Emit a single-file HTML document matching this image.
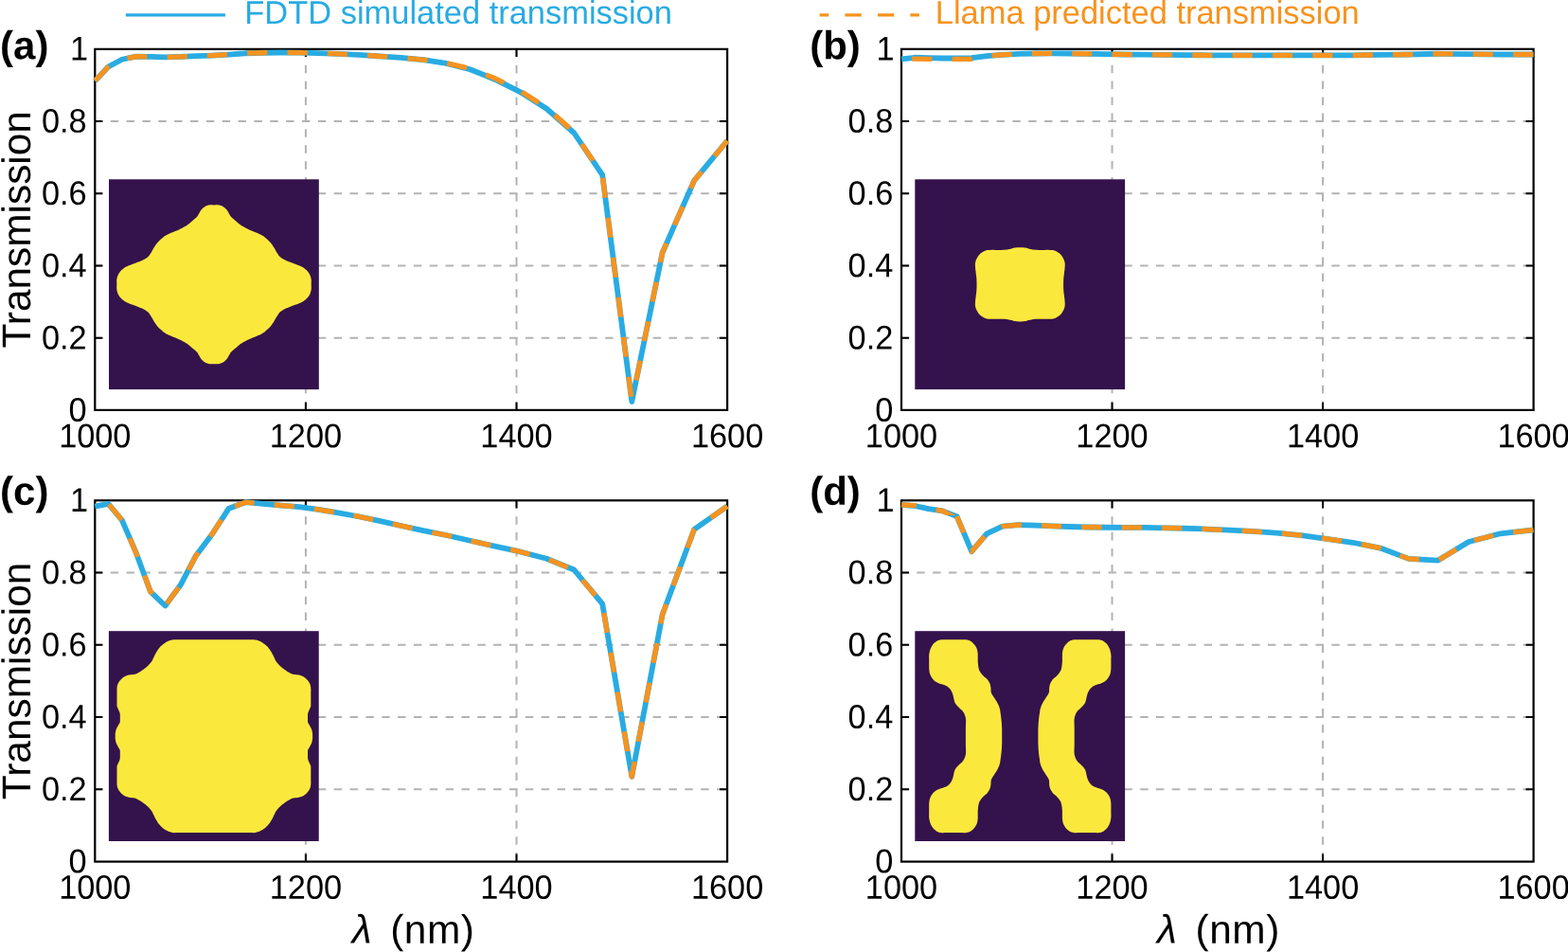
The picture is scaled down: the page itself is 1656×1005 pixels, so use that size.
<!DOCTYPE html>
<html><head><meta charset="utf-8"><title>FDTD vs Llama transmission</title>
<style>html,body{margin:0;padding:0;background:#fff;overflow:hidden}svg{display:block}text{font-family:"Liberation Sans",sans-serif;fill:#000;text-rendering:geometricPrecision}</style>
</head><body>
<svg width="1656" height="1005" viewBox="0 0 1656 1005" role="img" aria-label="FDTD simulated versus Llama predicted transmission spectra">
<rect width="1656" height="1005" fill="#fff"/>
<g id="panel-a">
<path d="M322.9 51.85V432.9M545.5 51.85V432.9" fill="none" stroke="#b3b3b3" stroke-width="2.0" stroke-dasharray="8.5 8.4"/>
<path d="M768.1 356.69H100.3M768.1 280.48H100.3M768.1 204.27H100.3M768.1 128.06H100.3" fill="none" stroke="#b3b3b3" stroke-width="2.0" stroke-dasharray="8.45 8.4" stroke-dashoffset="14.25"/>
<path d="M322.9 432.9v-8.1M322.9 51.85v8.1M545.5 432.9v-8.1M545.5 51.85v8.1M100.3 356.69h8.1M768.1 356.69h-8.1M100.3 280.48h8.1M768.1 280.48h-8.1M100.3 204.27h8.1M768.1 204.27h-8.1M100.3 128.06h8.1M768.1 128.06h-8.1" fill="none" stroke="#000" stroke-width="2.0"/>
<rect x="100.3" y="51.85" width="667.8" height="381.05" fill="none" stroke="#000" stroke-width="2.2"/>
<rect x="115" y="189.3" width="221.8" height="221.8" fill="#34124c"/>
<path d="M226.0 216.4 L225.2 216.4 L224.3 216.3 L223.5 216.3 L222.6 216.3 L221.8 216.3 L221.0 216.4 L220.2 216.6 L219.5 216.8 L218.7 217.0 L218.0 217.3 L217.3 217.6 L216.6 218.0 L215.9 218.4 L215.2 218.9 L214.5 219.5 L213.9 220.1 L213.3 220.7 L212.7 221.3 L212.2 222.0 L211.7 222.7 L211.2 223.5 L210.8 224.3 L210.4 225.0 L210.0 225.7 L209.6 226.3 L209.3 226.9 L209.0 227.4 L208.7 228.0 L208.3 228.5 L207.8 229.1 L207.2 229.7 L206.5 230.3 L205.7 231.0 L205.0 231.6 L204.2 232.3 L203.4 232.9 L202.7 233.6 L201.9 234.2 L201.2 234.9 L200.4 235.6 L199.6 236.2 L198.9 236.8 L198.2 237.3 L197.5 237.8 L196.8 238.2 L196.1 238.7 L195.4 239.1 L194.5 239.6 L193.5 240.1 L192.5 240.7 L191.3 241.3 L190.2 241.8 L189.0 242.4 L187.9 242.9 L186.8 243.4 L185.7 243.8 L184.6 244.3 L183.5 244.7 L182.4 245.2 L181.3 245.6 L180.2 246.0 L179.2 246.5 L178.2 246.9 L177.1 247.4 L176.1 247.9 L175.2 248.4 L174.3 249.0 L173.4 249.6 L172.6 250.2 L171.8 250.9 L171.0 251.6 L170.2 252.3 L169.4 253.0 L168.6 253.7 L167.9 254.4 L167.2 255.2 L166.5 255.9 L165.8 256.7 L165.2 257.5 L164.6 258.3 L164.1 259.1 L163.6 259.9 L163.0 260.7 L162.5 261.6 L161.9 262.5 L161.4 263.5 L160.8 264.5 L160.3 265.4 L159.7 266.4 L159.2 267.2 L158.7 267.9 L158.3 268.6 L157.9 269.2 L157.5 269.8 L157.0 270.4 L156.4 271.0 L155.7 271.6 L155.0 272.2 L154.1 272.7 L153.3 273.3 L152.4 273.8 L151.4 274.3 L150.4 274.8 L149.4 275.3 L148.3 275.7 L147.1 276.2 L146.0 276.6 L144.8 277.1 L143.6 277.6 L142.2 278.0 L140.9 278.5 L139.5 279.0 L138.3 279.4 L137.1 279.9 L136.0 280.3 L135.1 280.8 L134.2 281.2 L133.3 281.6 L132.4 282.1 L131.6 282.6 L130.8 283.2 L130.0 283.8 L129.2 284.4 L128.4 285.1 L127.7 285.8 L127.1 286.5 L126.5 287.2 L126.0 287.9 L125.5 288.7 L125.1 289.4 L124.7 290.2 L124.4 290.9 L124.1 291.6 L123.9 292.3 L123.7 293.1 L123.5 293.8 L123.4 294.5 L123.3 295.3 L123.2 296.1 L123.2 296.9 L123.2 297.8 L123.3 298.6 L123.3 299.5 L123.3 300.3 L123.3 301.1 L123.3 302.0 L123.2 302.8 L123.2 303.7 L123.2 304.5 L123.3 305.3 L123.4 306.1 L123.5 306.8 L123.7 307.5 L123.9 308.3 L124.1 309.0 L124.4 309.7 L124.7 310.4 L125.1 311.2 L125.5 311.9 L126.0 312.7 L126.5 313.4 L127.1 314.1 L127.7 314.8 L128.4 315.5 L129.2 316.2 L130.0 316.8 L130.8 317.4 L131.6 318.0 L132.4 318.5 L133.3 319.0 L134.2 319.4 L135.1 319.8 L136.0 320.3 L137.1 320.7 L138.3 321.2 L139.5 321.6 L140.9 322.1 L142.2 322.6 L143.6 323.0 L144.8 323.5 L146.0 324.0 L147.1 324.4 L148.3 324.9 L149.4 325.3 L150.4 325.8 L151.4 326.3 L152.4 326.8 L153.3 327.3 L154.1 327.9 L155.0 328.4 L155.7 329.0 L156.4 329.6 L157.0 330.2 L157.5 330.8 L157.9 331.4 L158.3 332.0 L158.7 332.7 L159.2 333.4 L159.7 334.2 L160.3 335.2 L160.8 336.1 L161.4 337.1 L161.9 338.1 L162.5 339.0 L163.0 339.9 L163.6 340.7 L164.1 341.5 L164.6 342.3 L165.2 343.1 L165.8 343.9 L166.5 344.7 L167.2 345.4 L167.9 346.2 L168.6 346.9 L169.4 347.6 L170.2 348.3 L171.0 349.0 L171.8 349.7 L172.6 350.4 L173.4 351.0 L174.3 351.6 L175.2 352.2 L176.1 352.7 L177.1 353.2 L178.2 353.7 L179.2 354.1 L180.2 354.6 L181.3 355.0 L182.4 355.4 L183.5 355.9 L184.6 356.3 L185.7 356.8 L186.8 357.2 L187.9 357.7 L189.0 358.2 L190.2 358.8 L191.3 359.3 L192.5 359.9 L193.5 360.5 L194.5 361.0 L195.4 361.5 L196.1 361.9 L196.8 362.4 L197.5 362.8 L198.2 363.3 L198.9 363.8 L199.6 364.4 L200.4 365.0 L201.2 365.7 L201.9 366.4 L202.7 367.0 L203.4 367.7 L204.2 368.3 L205.0 369.0 L205.7 369.6 L206.5 370.3 L207.2 370.9 L207.8 371.5 L208.3 372.1 L208.7 372.6 L209.0 373.2 L209.3 373.7 L209.6 374.3 L210.0 374.9 L210.4 375.6 L210.8 376.3 L211.2 377.1 L211.7 377.9 L212.2 378.6 L212.7 379.3 L213.3 379.9 L213.9 380.5 L214.5 381.1 L215.2 381.7 L215.9 382.2 L216.6 382.6 L217.3 383.0 L218.0 383.3 L218.7 383.6 L219.5 383.8 L220.2 384.0 L221.0 384.2 L221.8 384.3 L222.6 384.3 L223.5 384.3 L224.3 384.3 L225.2 384.2 L226.0 384.2 L226.8 384.2 L227.7 384.3 L228.5 384.3 L229.4 384.3 L230.2 384.3 L231.0 384.2 L231.8 384.0 L232.5 383.8 L233.3 383.6 L234.0 383.3 L234.7 383.0 L235.4 382.6 L236.1 382.2 L236.8 381.7 L237.5 381.1 L238.1 380.5 L238.7 379.9 L239.3 379.3 L239.8 378.6 L240.3 377.9 L240.8 377.1 L241.2 376.3 L241.6 375.6 L242.0 374.9 L242.4 374.3 L242.7 373.7 L243.0 373.2 L243.3 372.6 L243.7 372.1 L244.2 371.5 L244.8 370.9 L245.5 370.3 L246.3 369.6 L247.0 369.0 L247.8 368.3 L248.6 367.7 L249.3 367.0 L250.1 366.4 L250.8 365.7 L251.6 365.0 L252.4 364.4 L253.1 363.8 L253.8 363.3 L254.5 362.8 L255.2 362.4 L255.9 361.9 L256.6 361.5 L257.5 361.0 L258.5 360.5 L259.5 359.9 L260.7 359.3 L261.8 358.8 L263.0 358.2 L264.1 357.7 L265.2 357.2 L266.3 356.8 L267.4 356.3 L268.5 355.9 L269.6 355.4 L270.7 355.0 L271.8 354.6 L272.8 354.1 L273.9 353.7 L274.9 353.2 L275.9 352.7 L276.8 352.2 L277.7 351.6 L278.6 351.0 L279.4 350.4 L280.2 349.7 L281.0 349.0 L281.8 348.3 L282.6 347.6 L283.4 346.9 L284.1 346.2 L284.8 345.4 L285.5 344.7 L286.2 343.9 L286.8 343.1 L287.4 342.3 L287.9 341.5 L288.4 340.7 L289.0 339.9 L289.5 339.0 L290.1 338.1 L290.6 337.1 L291.2 336.1 L291.7 335.2 L292.3 334.2 L292.8 333.4 L293.3 332.7 L293.7 332.0 L294.1 331.4 L294.5 330.8 L295.0 330.2 L295.6 329.6 L296.3 329.0 L297.0 328.4 L297.9 327.9 L298.7 327.3 L299.6 326.8 L300.6 326.3 L301.6 325.8 L302.6 325.3 L303.7 324.9 L304.9 324.4 L306.0 324.0 L307.2 323.5 L308.4 323.0 L309.8 322.6 L311.1 322.1 L312.5 321.6 L313.7 321.2 L314.9 320.7 L316.0 320.3 L316.9 319.8 L317.9 319.4 L318.7 319.0 L319.6 318.5 L320.4 318.0 L321.2 317.4 L322.0 316.8 L322.8 316.2 L323.6 315.5 L324.3 314.8 L324.9 314.1 L325.5 313.4 L326.0 312.7 L326.5 311.9 L326.9 311.2 L327.3 310.4 L327.6 309.7 L327.9 309.0 L328.1 308.3 L328.3 307.5 L328.5 306.8 L328.6 306.1 L328.7 305.3 L328.8 304.5 L328.8 303.7 L328.8 302.8 L328.7 302.0 L328.7 301.1 L328.7 300.3 L328.7 299.5 L328.7 298.6 L328.8 297.8 L328.8 296.9 L328.8 296.1 L328.7 295.3 L328.6 294.5 L328.5 293.8 L328.3 293.1 L328.1 292.3 L327.9 291.6 L327.6 290.9 L327.3 290.2 L326.9 289.4 L326.5 288.7 L326.0 287.9 L325.5 287.2 L324.9 286.5 L324.3 285.8 L323.6 285.1 L322.8 284.4 L322.0 283.8 L321.2 283.2 L320.4 282.6 L319.6 282.1 L318.7 281.6 L317.9 281.2 L316.9 280.8 L316.0 280.3 L314.9 279.9 L313.7 279.4 L312.5 279.0 L311.1 278.5 L309.8 278.0 L308.4 277.6 L307.2 277.1 L306.0 276.6 L304.9 276.2 L303.7 275.7 L302.6 275.3 L301.6 274.8 L300.6 274.3 L299.6 273.8 L298.7 273.3 L297.9 272.7 L297.0 272.2 L296.3 271.6 L295.6 271.0 L295.0 270.4 L294.5 269.8 L294.1 269.2 L293.7 268.6 L293.3 267.9 L292.8 267.2 L292.3 266.4 L291.7 265.4 L291.2 264.5 L290.6 263.5 L290.1 262.5 L289.5 261.6 L289.0 260.7 L288.4 259.9 L287.9 259.1 L287.4 258.3 L286.8 257.5 L286.2 256.7 L285.5 255.9 L284.8 255.2 L284.1 254.4 L283.4 253.7 L282.6 253.0 L281.8 252.3 L281.0 251.6 L280.2 250.9 L279.4 250.2 L278.6 249.6 L277.7 249.0 L276.8 248.4 L275.9 247.9 L274.9 247.4 L273.9 246.9 L272.8 246.5 L271.8 246.0 L270.7 245.6 L269.6 245.2 L268.5 244.7 L267.4 244.3 L266.3 243.8 L265.2 243.4 L264.1 242.9 L263.0 242.4 L261.8 241.8 L260.7 241.3 L259.5 240.7 L258.5 240.1 L257.5 239.6 L256.6 239.1 L255.9 238.7 L255.2 238.2 L254.5 237.8 L253.8 237.3 L253.1 236.8 L252.4 236.2 L251.6 235.6 L250.8 234.9 L250.1 234.2 L249.3 233.6 L248.6 232.9 L247.8 232.3 L247.0 231.6 L246.3 231.0 L245.5 230.3 L244.8 229.7 L244.2 229.1 L243.7 228.5 L243.3 228.0 L243.0 227.4 L242.7 226.9 L242.4 226.3 L242.0 225.7 L241.6 225.0 L241.2 224.3 L240.8 223.5 L240.3 222.7 L239.8 222.0 L239.3 221.3 L238.7 220.7 L238.1 220.1 L237.5 219.5 L236.8 218.9 L236.1 218.4 L235.4 218.0 L234.7 217.6 L234.0 217.3 L233.3 217.0 L232.5 216.8 L231.8 216.6 L231.0 216.4 L230.2 216.3 L229.4 216.3 L228.5 216.3 L227.7 216.3 L226.8 216.4Z" fill="#fbe83d"/>
<polyline points="768.1,148.64 733.18,190.55 699.61,266.76 667.3,423.95 636.19,184.61 606.21,140.25 577.3,114.8 549.41,97.16 522.47,83.71 496.45,73.27 471.3,66.98 446.97,63.05 423.43,60.88 400.63,59.32 378.55,57.87 357.15,56.8 336.39,56.04 316.26,55.66 296.71,55.51 277.73,55.74 259.3,56.27 241.38,57.57 223.97,58.56 207.03,59.2 190.54,59.85 174.5,60.39 158.88,59.85 143.66,59.55 128.84,62.79 114.39,70.52 100.3,85.38" fill="none" stroke="#29abe2" stroke-width="5.8" stroke-linejoin="round"/>
<polyline points="768.1,148.64 733.18,190.55 699.61,266.76 667.67,422.15" fill="none" stroke="#f7931e" stroke-width="5.3" stroke-linejoin="round" stroke-dasharray="21.18 21.18" stroke-dashoffset="0"/>
<polyline points="667.3,423.95 636.19,184.61 606.21,139.49 577.3,113.66 549.41,96.01 522.47,82.56 496.45,72.5 471.3,66.6 446.97,63.05 423.43,60.88 400.63,59.32 378.55,57.87 357.15,56.8 336.39,56.04 316.26,55.66 296.71,55.51 277.73,55.74 259.3,56.27 241.38,57.57 223.97,58.56 207.03,59.2 190.54,59.85 174.5,60.39 158.88,59.85 143.66,59.55 128.84,62.79 114.39,70.52 100.3,85.38" fill="none" stroke="#f7931e" stroke-width="5.3" stroke-linejoin="round" stroke-dasharray="21.18 21.18" stroke-dashoffset="37.14"/>
<text transform="translate(100.3 472.3) scale(1 1.035) rotate(0.03)" font-size="34.3" text-anchor="middle">1000</text>
<text transform="translate(322.9 472.3) scale(1 1.035) rotate(0.03)" font-size="34.3" text-anchor="middle">1200</text>
<text transform="translate(545.5 472.3) scale(1 1.035) rotate(0.03)" font-size="34.3" text-anchor="middle">1400</text>
<text transform="translate(768.1 472.3) scale(1 1.035) rotate(0.03)" font-size="34.3" text-anchor="middle">1600</text>
<text transform="translate(91.6 444.65) scale(1 1.035) rotate(0.03)" font-size="34.3" text-anchor="end">0</text>
<text transform="translate(91.6 368.44) scale(1 1.035) rotate(0.03)" font-size="34.3" text-anchor="end">0.2</text>
<text transform="translate(91.6 292.23) scale(1 1.035) rotate(0.03)" font-size="34.3" text-anchor="end">0.4</text>
<text transform="translate(91.6 216.02) scale(1 1.035) rotate(0.03)" font-size="34.3" text-anchor="end">0.6</text>
<text transform="translate(91.6 139.81) scale(1 1.035) rotate(0.03)" font-size="34.3" text-anchor="end">0.8</text>
<text transform="translate(93 63.6) scale(1 1.035) rotate(0.03)" font-size="34.3" text-anchor="end">1</text>
<text transform="translate(0.1 62.3) rotate(0.03)" font-size="42.0" font-weight="bold">(a)</text>
<text transform="translate(31.7 242.3) rotate(-90)" font-size="42.4" text-anchor="middle">Transmission</text>
</g>
<g id="panel-b">
<path d="M1174.53 51.8V432.9M1397.07 51.8V432.9" fill="none" stroke="#b3b3b3" stroke-width="2.0" stroke-dasharray="8.5 8.4"/>
<path d="M1619.6 356.68H952M1619.6 280.46H952M1619.6 204.24H952M1619.6 128.02H952" fill="none" stroke="#b3b3b3" stroke-width="2.0" stroke-dasharray="8.45 8.4" stroke-dashoffset="14.25"/>
<path d="M1174.53 432.9v-8.1M1174.53 51.8v8.1M1397.07 432.9v-8.1M1397.07 51.8v8.1M952 356.68h8.1M1619.6 356.68h-8.1M952 280.46h8.1M1619.6 280.46h-8.1M952 204.24h8.1M1619.6 204.24h-8.1M952 128.02h8.1M1619.6 128.02h-8.1" fill="none" stroke="#000" stroke-width="2.0"/>
<rect x="952" y="51.8" width="667.6" height="381.1" fill="none" stroke="#000" stroke-width="2.2"/>
<rect x="966.3" y="189.3" width="221.8" height="221.8" fill="#34124c"/>
<path d="M1077.3 261.2 L1076.4 261.2 L1075.6 261.2 L1074.7 261.3 L1073.8 261.3 L1073.0 261.4 L1072.2 261.5 L1071.3 261.6 L1070.5 261.8 L1069.8 262.0 L1069.0 262.3 L1068.2 262.5 L1067.4 262.7 L1066.6 262.9 L1065.8 263.0 L1065.0 263.2 L1064.2 263.4 L1063.4 263.5 L1062.6 263.6 L1061.9 263.7 L1061.3 263.8 L1060.7 263.8 L1060.0 263.8 L1059.0 263.8 L1057.8 263.9 L1056.2 263.9 L1054.1 263.9 L1051.8 263.9 L1049.6 263.8 L1047.5 263.8 L1045.9 263.9 L1044.7 263.9 L1043.9 263.9 L1043.3 263.9 L1042.8 264.0 L1042.3 264.1 L1041.7 264.2 L1041.0 264.5 L1040.3 264.7 L1039.6 265.1 L1038.9 265.4 L1038.2 265.8 L1037.5 266.3 L1036.9 266.7 L1036.2 267.1 L1035.6 267.6 L1035.0 268.1 L1034.5 268.7 L1033.9 269.2 L1033.4 269.9 L1032.9 270.5 L1032.5 271.3 L1032.1 272.0 L1031.7 272.7 L1031.3 273.4 L1031.0 274.1 L1030.7 274.8 L1030.5 275.5 L1030.3 276.2 L1030.1 276.9 L1030.0 277.6 L1029.9 278.3 L1029.9 278.9 L1029.9 279.6 L1029.9 280.3 L1029.9 281.0 L1030.0 281.8 L1030.1 282.7 L1030.1 283.6 L1030.2 284.7 L1030.4 285.7 L1030.5 286.7 L1030.6 287.8 L1030.7 288.7 L1030.8 289.7 L1031.0 290.7 L1031.1 291.7 L1031.2 292.7 L1031.3 293.7 L1031.4 294.8 L1031.4 295.9 L1031.5 297.0 L1031.5 298.1 L1031.5 299.2 L1031.5 300.3 L1031.5 301.4 L1031.5 302.5 L1031.5 303.6 L1031.4 304.7 L1031.4 305.8 L1031.3 306.9 L1031.2 307.9 L1031.1 308.9 L1031.0 309.9 L1030.8 310.9 L1030.7 311.9 L1030.6 312.8 L1030.5 313.9 L1030.4 314.9 L1030.2 315.9 L1030.1 317.0 L1030.1 317.9 L1030.0 318.8 L1029.9 319.6 L1029.9 320.3 L1029.9 321.0 L1029.9 321.7 L1029.9 322.3 L1030.0 323.0 L1030.1 323.7 L1030.3 324.4 L1030.5 325.1 L1030.7 325.8 L1031.0 326.5 L1031.3 327.2 L1031.7 327.9 L1032.1 328.6 L1032.5 329.3 L1032.9 330.1 L1033.4 330.7 L1033.9 331.4 L1034.5 331.9 L1035.0 332.5 L1035.6 333.0 L1036.2 333.5 L1036.9 333.9 L1037.5 334.3 L1038.2 334.8 L1038.9 335.2 L1039.6 335.5 L1040.3 335.9 L1041.0 336.1 L1041.7 336.4 L1042.3 336.5 L1042.8 336.6 L1043.3 336.7 L1043.9 336.7 L1044.7 336.7 L1045.9 336.7 L1047.5 336.8 L1049.6 336.8 L1051.8 336.7 L1054.1 336.7 L1056.2 336.7 L1057.8 336.7 L1059.0 336.8 L1060.0 336.8 L1060.7 336.8 L1061.3 336.8 L1061.9 336.9 L1062.6 337.0 L1063.4 337.1 L1064.2 337.2 L1065.0 337.4 L1065.8 337.6 L1066.6 337.7 L1067.4 337.9 L1068.2 338.1 L1069.0 338.3 L1069.8 338.6 L1070.5 338.8 L1071.3 339.0 L1072.2 339.1 L1073.0 339.2 L1073.8 339.3 L1074.7 339.3 L1075.6 339.4 L1076.4 339.4 L1077.3 339.4 L1078.2 339.4 L1079.0 339.4 L1079.9 339.3 L1080.8 339.3 L1081.6 339.2 L1082.4 339.1 L1083.3 339.0 L1084.1 338.8 L1084.8 338.6 L1085.6 338.3 L1086.4 338.1 L1087.2 337.9 L1088.0 337.7 L1088.8 337.6 L1089.6 337.4 L1090.4 337.2 L1091.2 337.1 L1092.0 337.0 L1092.7 336.9 L1093.3 336.8 L1093.9 336.8 L1094.6 336.8 L1095.6 336.8 L1096.8 336.7 L1098.4 336.7 L1100.5 336.7 L1102.8 336.7 L1105.0 336.8 L1107.1 336.8 L1108.7 336.7 L1109.9 336.7 L1110.7 336.7 L1111.3 336.7 L1111.8 336.6 L1112.3 336.5 L1112.9 336.4 L1113.6 336.1 L1114.3 335.9 L1115.0 335.5 L1115.7 335.2 L1116.4 334.8 L1117.1 334.3 L1117.7 333.9 L1118.4 333.5 L1119.0 333.0 L1119.6 332.5 L1120.1 331.9 L1120.7 331.4 L1121.2 330.7 L1121.7 330.1 L1122.1 329.3 L1122.5 328.6 L1122.9 327.9 L1123.3 327.2 L1123.6 326.5 L1123.9 325.8 L1124.1 325.1 L1124.3 324.4 L1124.5 323.7 L1124.6 323.0 L1124.7 322.3 L1124.7 321.7 L1124.7 321.0 L1124.7 320.3 L1124.7 319.6 L1124.6 318.8 L1124.5 317.9 L1124.5 317.0 L1124.4 315.9 L1124.2 314.9 L1124.1 313.9 L1124.0 312.8 L1123.9 311.9 L1123.8 310.9 L1123.6 309.9 L1123.5 308.9 L1123.4 307.9 L1123.3 306.9 L1123.2 305.8 L1123.2 304.7 L1123.1 303.6 L1123.1 302.5 L1123.1 301.4 L1123.1 300.3 L1123.1 299.2 L1123.1 298.1 L1123.1 297.0 L1123.2 295.9 L1123.2 294.8 L1123.3 293.7 L1123.4 292.7 L1123.5 291.7 L1123.6 290.7 L1123.8 289.7 L1123.9 288.7 L1124.0 287.8 L1124.1 286.7 L1124.2 285.7 L1124.4 284.7 L1124.5 283.6 L1124.5 282.7 L1124.6 281.8 L1124.7 281.0 L1124.7 280.3 L1124.7 279.6 L1124.7 278.9 L1124.7 278.3 L1124.6 277.6 L1124.5 276.9 L1124.3 276.2 L1124.1 275.5 L1123.9 274.8 L1123.6 274.1 L1123.3 273.4 L1122.9 272.7 L1122.5 272.0 L1122.1 271.3 L1121.7 270.5 L1121.2 269.9 L1120.7 269.2 L1120.1 268.7 L1119.6 268.1 L1119.0 267.6 L1118.4 267.1 L1117.7 266.7 L1117.1 266.3 L1116.4 265.8 L1115.7 265.4 L1115.0 265.1 L1114.3 264.7 L1113.6 264.5 L1112.9 264.2 L1112.3 264.1 L1111.8 264.0 L1111.3 263.9 L1110.7 263.9 L1109.9 263.9 L1108.7 263.9 L1107.1 263.8 L1105.0 263.8 L1102.8 263.9 L1100.5 263.9 L1098.4 263.9 L1096.8 263.9 L1095.6 263.8 L1094.6 263.8 L1093.9 263.8 L1093.3 263.8 L1092.7 263.7 L1092.0 263.6 L1091.2 263.5 L1090.4 263.4 L1089.6 263.2 L1088.8 263.0 L1088.0 262.9 L1087.2 262.7 L1086.4 262.5 L1085.6 262.3 L1084.8 262.0 L1084.1 261.8 L1083.3 261.6 L1082.4 261.5 L1081.6 261.4 L1080.8 261.3 L1079.9 261.3 L1079.0 261.2 L1078.2 261.2Z" fill="#fbe83d"/>
<polyline points="1619.6,57.52 1584.69,57.52 1551.13,57.14 1518.83,56.75 1487.73,57.52 1457.76,57.9 1428.86,58.28 1400.97,58.28 1374.05,58.28 1348.03,58.28 1322.89,58.28 1298.57,58.28 1275.03,58.28 1252.24,58.09 1230.17,57.9 1208.77,57.71 1188.02,57.52 1167.89,57.14 1148.35,56.75 1129.38,56.49 1110.95,56.37 1093.04,56.49 1075.63,56.91 1058.69,57.9 1042.22,59.04 1026.18,61.14 1010.56,61.52 995.35,61.52 980.53,61.14 966.08,60.76 952,62.39" fill="none" stroke="#29abe2" stroke-width="5.8" stroke-linejoin="round"/>
<polyline points="1619.6,57.52 1584.69,57.52 1551.13,57.14 1518.83,56.75 1487.73,57.52 1457.76,57.9 1428.86,58.28 1400.97,58.28 1374.05,58.28 1348.03,58.28 1322.89,58.28 1298.57,58.28 1275.03,58.28 1252.24,58.09 1230.17,57.9 1208.77,57.71 1188.02,57.52 1167.89,57.14 1148.35,56.75 1129.38,56.49 1110.95,56.37 1093.04,56.49 1075.63,56.91 1058.69,57.9 1042.22,59.04 1026.18,62.28 1010.56,62.47 995.35,62.47 980.53,62.28 966.08,62.09 952,62.39" fill="none" stroke="#f7931e" stroke-width="5.3" stroke-linejoin="round" stroke-dasharray="21.18 21.18" stroke-dashoffset="42.08"/>
<text transform="translate(952 472.3) scale(1 1.035) rotate(0.03)" font-size="34.3" text-anchor="middle">1000</text>
<text transform="translate(1174.53 472.3) scale(1 1.035) rotate(0.03)" font-size="34.3" text-anchor="middle">1200</text>
<text transform="translate(1397.07 472.3) scale(1 1.035) rotate(0.03)" font-size="34.3" text-anchor="middle">1400</text>
<text transform="translate(1619.6 472.3) scale(1 1.035) rotate(0.03)" font-size="34.3" text-anchor="middle">1600</text>
<text transform="translate(943.3 444.65) scale(1 1.035) rotate(0.03)" font-size="34.3" text-anchor="end">0</text>
<text transform="translate(943.3 368.43) scale(1 1.035) rotate(0.03)" font-size="34.3" text-anchor="end">0.2</text>
<text transform="translate(943.3 292.21) scale(1 1.035) rotate(0.03)" font-size="34.3" text-anchor="end">0.4</text>
<text transform="translate(943.3 215.99) scale(1 1.035) rotate(0.03)" font-size="34.3" text-anchor="end">0.6</text>
<text transform="translate(943.3 139.77) scale(1 1.035) rotate(0.03)" font-size="34.3" text-anchor="end">0.8</text>
<text transform="translate(944.7 63.55) scale(1 1.035) rotate(0.03)" font-size="34.3" text-anchor="end">1</text>
<text transform="translate(855.2 62.3) rotate(0.03)" font-size="42.0" font-weight="bold">(b)</text>
</g>
<g id="panel-c">
<path d="M322.9 528.3V909.6M545.5 528.3V909.6" fill="none" stroke="#b3b3b3" stroke-width="2.0" stroke-dasharray="8.5 8.4"/>
<path d="M768.1 833.34H100.3M768.1 757.08H100.3M768.1 680.82H100.3M768.1 604.56H100.3" fill="none" stroke="#b3b3b3" stroke-width="2.0" stroke-dasharray="8.45 8.4" stroke-dashoffset="14.25"/>
<path d="M322.9 909.6v-8.1M322.9 528.3v8.1M545.5 909.6v-8.1M545.5 528.3v8.1M100.3 833.34h8.1M768.1 833.34h-8.1M100.3 757.08h8.1M768.1 757.08h-8.1M100.3 680.82h8.1M768.1 680.82h-8.1M100.3 604.56h8.1M768.1 604.56h-8.1" fill="none" stroke="#000" stroke-width="2.0"/>
<rect x="100.3" y="528.3" width="667.8" height="381.3" fill="none" stroke="#000" stroke-width="2.2"/>
<rect x="114.9" y="666.2" width="221.8" height="221.8" fill="#34124c"/>
<path d="M225.9 675.3 L223.2 675.3 L220.5 675.3 L217.8 675.3 L215.2 675.3 L212.5 675.3 L209.9 675.3 L207.3 675.3 L204.6 675.3 L202.0 675.3 L199.4 675.3 L197.0 675.3 L194.9 675.3 L193.0 675.3 L191.2 675.3 L189.7 675.3 L188.2 675.3 L187.0 675.3 L185.9 675.3 L185.1 675.3 L184.5 675.2 L184.2 675.2 L183.8 675.2 L183.4 675.3 L182.9 675.4 L182.2 675.5 L181.4 675.6 L180.6 675.8 L179.7 676.1 L178.8 676.3 L177.9 676.7 L177.0 677.1 L176.0 677.6 L175.1 678.2 L174.1 678.7 L173.2 679.4 L172.3 680.0 L171.5 680.7 L170.7 681.4 L170.0 682.1 L169.2 682.8 L168.6 683.6 L167.9 684.4 L167.3 685.2 L166.7 686.0 L166.1 686.9 L165.6 687.8 L165.1 688.6 L164.6 689.4 L164.2 690.2 L163.8 690.9 L163.4 691.6 L163.1 692.4 L162.8 693.1 L162.4 693.8 L162.1 694.5 L161.7 695.2 L161.4 696.0 L161.1 696.7 L160.7 697.4 L160.2 698.2 L159.6 699.0 L158.9 699.8 L158.2 700.7 L157.4 701.6 L156.6 702.4 L155.8 703.2 L154.9 704.0 L154.0 704.8 L153.1 705.5 L152.1 706.2 L151.1 706.9 L150.2 707.6 L149.3 708.2 L148.3 708.9 L147.3 709.5 L146.4 710.0 L145.5 710.5 L144.7 710.9 L144.0 711.2 L143.5 711.5 L143.0 711.6 L142.5 711.8 L142.0 711.9 L141.4 712.0 L140.7 712.1 L140.1 712.1 L139.3 712.2 L138.6 712.2 L137.8 712.3 L137.0 712.4 L136.1 712.6 L135.2 712.8 L134.3 713.1 L133.3 713.4 L132.4 713.8 L131.5 714.2 L130.7 714.7 L129.9 715.3 L129.1 716.0 L128.3 716.7 L127.6 717.4 L127.0 718.1 L126.4 718.8 L125.9 719.5 L125.4 720.3 L125.0 721.0 L124.6 721.8 L124.3 722.5 L124.0 723.2 L123.9 724.0 L123.7 724.7 L123.6 725.4 L123.6 726.2 L123.5 726.9 L123.5 727.6 L123.4 728.2 L123.5 728.9 L123.5 729.6 L123.5 730.3 L123.5 731.2 L123.5 732.2 L123.5 733.4 L123.5 734.6 L123.5 735.8 L123.5 737.0 L123.5 738.2 L123.5 739.3 L123.5 740.5 L123.5 741.7 L123.5 742.7 L123.5 743.7 L123.5 744.5 L123.5 745.1 L123.5 745.4 L123.6 745.6 L123.6 745.9 L123.7 746.1 L123.9 746.6 L124.2 747.3 L124.6 748.1 L125.0 749.0 L125.4 749.9 L125.8 750.7 L126.1 751.4 L126.3 751.9 L126.4 752.3 L126.5 752.6 L126.6 752.9 L126.6 753.2 L126.7 753.6 L126.7 754.1 L126.8 754.7 L126.8 755.3 L126.8 755.9 L126.8 756.6 L126.8 757.2 L126.8 757.8 L126.8 758.5 L126.8 759.2 L126.8 759.9 L126.8 760.5 L126.8 761.0 L126.8 761.4 L126.8 761.8 L126.7 762.0 L126.7 762.3 L126.6 762.7 L126.4 763.1 L126.1 763.7 L125.7 764.3 L125.3 765.0 L124.9 765.7 L124.5 766.4 L124.1 767.1 L123.8 767.7 L123.5 768.3 L123.2 768.9 L122.9 769.5 L122.7 770.1 L122.5 770.7 L122.3 771.3 L122.2 771.9 L122.1 772.5 L122.0 773.1 L121.9 773.6 L121.8 774.2 L121.7 774.7 L121.7 775.2 L121.7 775.7 L121.7 776.2 L121.7 776.7 L121.7 777.2 L121.7 777.7 L121.7 778.2 L121.7 778.7 L121.7 779.2 L121.7 779.7 L121.8 780.2 L121.9 780.8 L122.0 781.3 L122.1 781.9 L122.2 782.5 L122.3 783.1 L122.5 783.7 L122.7 784.3 L122.9 784.9 L123.2 785.5 L123.5 786.1 L123.8 786.7 L124.1 787.3 L124.5 788.0 L124.9 788.7 L125.3 789.4 L125.7 790.1 L126.1 790.7 L126.4 791.3 L126.6 791.7 L126.7 792.1 L126.7 792.4 L126.8 792.6 L126.8 793.0 L126.8 793.4 L126.8 793.9 L126.8 794.5 L126.8 795.2 L126.8 795.9 L126.8 796.6 L126.8 797.2 L126.8 797.8 L126.8 798.5 L126.8 799.1 L126.8 799.7 L126.7 800.3 L126.7 800.8 L126.6 801.2 L126.6 801.5 L126.5 801.8 L126.4 802.1 L126.3 802.5 L126.1 803.0 L125.8 803.7 L125.4 804.5 L125.0 805.4 L124.6 806.3 L124.2 807.1 L123.9 807.8 L123.7 808.3 L123.6 808.5 L123.6 808.8 L123.5 809.0 L123.5 809.3 L123.5 809.9 L123.5 810.7 L123.5 811.7 L123.5 812.7 L123.5 813.9 L123.5 815.1 L123.5 816.2 L123.5 817.4 L123.5 818.6 L123.5 819.8 L123.5 821.0 L123.5 822.2 L123.5 823.2 L123.5 824.1 L123.5 824.8 L123.5 825.5 L123.4 826.2 L123.5 826.8 L123.5 827.5 L123.6 828.2 L123.6 829.0 L123.7 829.7 L123.9 830.4 L124.0 831.2 L124.3 831.9 L124.6 832.6 L125.0 833.4 L125.4 834.1 L125.9 834.9 L126.4 835.6 L127.0 836.3 L127.6 837.0 L128.3 837.7 L129.1 838.4 L129.9 839.1 L130.7 839.7 L131.5 840.2 L132.4 840.6 L133.3 841.0 L134.3 841.3 L135.2 841.6 L136.1 841.8 L137.0 842.0 L137.8 842.1 L138.6 842.2 L139.3 842.2 L140.1 842.3 L140.7 842.3 L141.4 842.4 L142.0 842.5 L142.5 842.6 L143.0 842.8 L143.5 842.9 L144.0 843.2 L144.7 843.5 L145.5 843.9 L146.4 844.4 L147.3 844.9 L148.3 845.5 L149.3 846.2 L150.2 846.8 L151.1 847.5 L152.1 848.2 L153.1 848.9 L154.0 849.6 L154.9 850.4 L155.8 851.2 L156.6 852.0 L157.4 852.8 L158.2 853.7 L158.9 854.6 L159.6 855.4 L160.2 856.2 L160.7 857.0 L161.1 857.7 L161.4 858.4 L161.7 859.2 L162.1 859.9 L162.4 860.6 L162.8 861.3 L163.1 862.0 L163.4 862.8 L163.8 863.5 L164.2 864.2 L164.6 865.0 L165.1 865.8 L165.6 866.6 L166.1 867.5 L166.7 868.4 L167.3 869.2 L167.9 870.0 L168.6 870.8 L169.2 871.6 L170.0 872.3 L170.7 873.0 L171.5 873.7 L172.3 874.4 L173.2 875.0 L174.1 875.7 L175.1 876.2 L176.0 876.8 L177.0 877.3 L177.9 877.7 L178.8 878.1 L179.7 878.3 L180.6 878.6 L181.4 878.8 L182.2 878.9 L182.9 879.1 L183.4 879.1 L183.8 879.2 L184.2 879.2 L184.5 879.2 L185.1 879.1 L185.9 879.1 L187.0 879.1 L188.2 879.1 L189.7 879.1 L191.2 879.1 L193.0 879.1 L194.9 879.1 L197.0 879.1 L199.4 879.1 L202.0 879.1 L204.6 879.1 L207.3 879.1 L209.9 879.1 L212.5 879.1 L215.2 879.1 L217.8 879.1 L220.5 879.1 L223.2 879.1 L225.9 879.1 L228.6 879.1 L231.3 879.1 L234.0 879.1 L236.6 879.1 L239.3 879.1 L241.9 879.1 L244.5 879.1 L247.2 879.1 L249.8 879.1 L252.4 879.1 L254.8 879.1 L256.9 879.1 L258.8 879.1 L260.6 879.1 L262.1 879.1 L263.6 879.1 L264.8 879.1 L265.9 879.1 L266.7 879.1 L267.3 879.2 L267.6 879.2 L268.0 879.2 L268.4 879.1 L268.9 879.1 L269.6 878.9 L270.4 878.8 L271.2 878.6 L272.1 878.3 L273.0 878.1 L273.9 877.7 L274.8 877.3 L275.8 876.8 L276.7 876.2 L277.7 875.7 L278.6 875.0 L279.5 874.4 L280.3 873.7 L281.1 873.0 L281.8 872.3 L282.6 871.6 L283.2 870.8 L283.9 870.0 L284.5 869.2 L285.1 868.4 L285.7 867.5 L286.2 866.6 L286.7 865.8 L287.2 865.0 L287.6 864.2 L288.0 863.5 L288.4 862.8 L288.7 862.0 L289.0 861.3 L289.4 860.6 L289.7 859.9 L290.1 859.2 L290.4 858.4 L290.7 857.7 L291.1 857.0 L291.6 856.2 L292.2 855.4 L292.9 854.6 L293.6 853.7 L294.4 852.8 L295.2 852.0 L296.0 851.2 L296.9 850.4 L297.8 849.6 L298.7 848.9 L299.7 848.2 L300.7 847.5 L301.6 846.8 L302.5 846.2 L303.5 845.5 L304.5 844.9 L305.4 844.4 L306.3 843.9 L307.1 843.5 L307.8 843.2 L308.3 842.9 L308.8 842.8 L309.3 842.6 L309.8 842.5 L310.4 842.4 L311.1 842.3 L311.7 842.3 L312.5 842.2 L313.2 842.2 L314.0 842.1 L314.8 842.0 L315.7 841.8 L316.6 841.6 L317.5 841.3 L318.5 841.0 L319.4 840.6 L320.3 840.2 L321.1 839.7 L321.9 839.1 L322.7 838.4 L323.5 837.7 L324.2 837.0 L324.8 836.3 L325.4 835.6 L325.9 834.9 L326.4 834.1 L326.8 833.4 L327.2 832.6 L327.5 831.9 L327.8 831.2 L327.9 830.4 L328.1 829.7 L328.2 829.0 L328.2 828.2 L328.3 827.5 L328.3 826.8 L328.4 826.2 L328.4 825.5 L328.3 824.8 L328.3 824.1 L328.3 823.2 L328.3 822.2 L328.3 821.0 L328.3 819.8 L328.3 818.6 L328.3 817.4 L328.3 816.2 L328.3 815.1 L328.3 813.9 L328.3 812.7 L328.3 811.7 L328.3 810.7 L328.3 809.9 L328.3 809.3 L328.3 809.0 L328.2 808.8 L328.2 808.5 L328.1 808.3 L327.9 807.8 L327.6 807.1 L327.2 806.3 L326.8 805.4 L326.4 804.5 L326.0 803.7 L325.7 803.0 L325.5 802.5 L325.4 802.1 L325.3 801.8 L325.2 801.5 L325.2 801.2 L325.1 800.8 L325.1 800.3 L325.0 799.7 L325.0 799.1 L325.0 798.5 L325.0 797.8 L325.0 797.2 L325.0 796.6 L325.0 795.9 L325.0 795.2 L325.0 794.5 L325.0 793.9 L325.0 793.4 L325.0 793.0 L325.0 792.6 L325.1 792.4 L325.1 792.1 L325.2 791.7 L325.4 791.3 L325.7 790.7 L326.1 790.1 L326.5 789.4 L326.9 788.7 L327.3 788.0 L327.7 787.3 L328.0 786.7 L328.3 786.1 L328.6 785.5 L328.9 784.9 L329.1 784.3 L329.3 783.7 L329.5 783.1 L329.6 782.5 L329.7 781.9 L329.8 781.3 L329.9 780.8 L330.0 780.2 L330.1 779.7 L330.1 779.2 L330.1 778.7 L330.1 778.2 L330.1 777.7 L330.1 777.2 L330.1 776.7 L330.1 776.2 L330.1 775.7 L330.1 775.2 L330.1 774.7 L330.0 774.2 L329.9 773.6 L329.8 773.1 L329.7 772.5 L329.6 771.9 L329.5 771.3 L329.3 770.7 L329.1 770.1 L328.9 769.5 L328.6 768.9 L328.3 768.3 L328.0 767.7 L327.7 767.1 L327.3 766.4 L326.9 765.7 L326.5 765.0 L326.1 764.3 L325.7 763.7 L325.4 763.1 L325.2 762.7 L325.1 762.3 L325.1 762.0 L325.0 761.8 L325.0 761.4 L325.0 761.0 L325.0 760.5 L325.0 759.9 L325.0 759.2 L325.0 758.5 L325.0 757.8 L325.0 757.2 L325.0 756.6 L325.0 755.9 L325.0 755.3 L325.0 754.7 L325.1 754.1 L325.1 753.6 L325.2 753.2 L325.2 752.9 L325.3 752.6 L325.4 752.3 L325.5 751.9 L325.7 751.4 L326.0 750.7 L326.4 749.9 L326.8 749.0 L327.2 748.1 L327.6 747.3 L327.9 746.6 L328.1 746.1 L328.2 745.9 L328.2 745.6 L328.3 745.4 L328.3 745.1 L328.3 744.5 L328.3 743.7 L328.3 742.7 L328.3 741.7 L328.3 740.5 L328.3 739.3 L328.3 738.2 L328.3 737.0 L328.3 735.8 L328.3 734.6 L328.3 733.4 L328.3 732.2 L328.3 731.2 L328.3 730.3 L328.3 729.6 L328.4 728.9 L328.4 728.2 L328.3 727.6 L328.3 726.9 L328.2 726.2 L328.2 725.4 L328.1 724.7 L327.9 724.0 L327.8 723.2 L327.5 722.5 L327.2 721.8 L326.8 721.0 L326.4 720.3 L325.9 719.5 L325.4 718.8 L324.8 718.1 L324.2 717.4 L323.5 716.7 L322.7 716.0 L321.9 715.3 L321.1 714.7 L320.3 714.2 L319.4 713.8 L318.5 713.4 L317.5 713.1 L316.6 712.8 L315.7 712.6 L314.8 712.4 L314.0 712.3 L313.2 712.2 L312.5 712.2 L311.7 712.1 L311.1 712.1 L310.4 712.0 L309.8 711.9 L309.3 711.8 L308.8 711.6 L308.3 711.5 L307.8 711.2 L307.1 710.9 L306.3 710.5 L305.4 710.0 L304.5 709.5 L303.5 708.9 L302.5 708.2 L301.6 707.6 L300.7 706.9 L299.7 706.2 L298.7 705.5 L297.8 704.8 L296.9 704.0 L296.0 703.2 L295.2 702.4 L294.4 701.6 L293.6 700.7 L292.9 699.8 L292.2 699.0 L291.6 698.2 L291.1 697.4 L290.7 696.7 L290.4 696.0 L290.1 695.2 L289.7 694.5 L289.4 693.8 L289.0 693.1 L288.7 692.4 L288.4 691.6 L288.0 690.9 L287.6 690.2 L287.2 689.4 L286.7 688.6 L286.2 687.8 L285.7 686.9 L285.1 686.0 L284.5 685.2 L283.9 684.4 L283.2 683.6 L282.6 682.8 L281.8 682.1 L281.1 681.4 L280.3 680.7 L279.5 680.0 L278.6 679.4 L277.7 678.7 L276.7 678.2 L275.8 677.6 L274.8 677.1 L273.9 676.7 L273.0 676.3 L272.1 676.1 L271.2 675.8 L270.4 675.6 L269.6 675.5 L268.9 675.4 L268.4 675.3 L268.0 675.2 L267.6 675.2 L267.3 675.2 L266.7 675.3 L265.9 675.3 L264.8 675.3 L263.6 675.3 L262.1 675.3 L260.6 675.3 L258.8 675.3 L256.9 675.3 L254.8 675.3 L252.4 675.3 L249.8 675.3 L247.2 675.3 L244.5 675.3 L241.9 675.3 L239.3 675.3 L236.6 675.3 L234.0 675.3 L231.3 675.3 L228.6 675.3Z" fill="#fbe83d"/>
<polyline points="768.1,534.4 733.18,558.8 699.61,648.79 667.3,819.8 636.19,637.47 606.21,601.51 577.3,589.8 549.41,582.44 522.47,576.61 496.45,570.78 471.3,564.98 446.97,560.18 423.43,554.99 400.63,549.92 378.55,545.23 357.15,541.38 336.39,537.91 316.26,535.16 296.71,533.64 277.73,531.88 259.3,530.21 241.38,537.07 223.97,563.99 207.03,586.41 190.54,617.83 174.5,639.49 158.88,624.54 143.66,583.47 128.84,549.04 114.39,531.88 100.3,534.55" fill="none" stroke="#29abe2" stroke-width="5.8" stroke-linejoin="round"/>
<polyline points="768.1,534.4 733.18,558.8 699.61,648.79 667.3,819.8 667.1,818.62" fill="none" stroke="#f7931e" stroke-width="5.3" stroke-linejoin="round" stroke-dasharray="21.18 21.18" stroke-dashoffset="0"/>
<polyline points="667.3,819.8 636.19,637.47 606.21,601.51 577.3,589.8 549.41,582.44 522.47,576.61 496.45,570.78 471.3,564.98 446.97,560.18 423.43,554.99 400.63,549.92 378.55,545.23 357.15,541.38 336.39,537.91 316.26,535.16 296.71,533.64 277.73,531.88 259.3,530.21 241.38,537.07 223.97,563.99 207.03,586.41 190.54,617.83 174.5,639.49 158.88,624.54 143.66,583.47 128.84,549.04 114.39,531.88 100.3,534.55" fill="none" stroke="#f7931e" stroke-width="5.3" stroke-linejoin="round" stroke-dasharray="21.18 21.18" stroke-dashoffset="15.3"/>
<text transform="translate(100.3 948.7) scale(1 1.035) rotate(0.03)" font-size="34.3" text-anchor="middle">1000</text>
<text transform="translate(322.9 948.7) scale(1 1.035) rotate(0.03)" font-size="34.3" text-anchor="middle">1200</text>
<text transform="translate(545.5 948.7) scale(1 1.035) rotate(0.03)" font-size="34.3" text-anchor="middle">1400</text>
<text transform="translate(768.1 948.7) scale(1 1.035) rotate(0.03)" font-size="34.3" text-anchor="middle">1600</text>
<text transform="translate(91.6 921.35) scale(1 1.035) rotate(0.03)" font-size="34.3" text-anchor="end">0</text>
<text transform="translate(91.6 845.09) scale(1 1.035) rotate(0.03)" font-size="34.3" text-anchor="end">0.2</text>
<text transform="translate(91.6 768.83) scale(1 1.035) rotate(0.03)" font-size="34.3" text-anchor="end">0.4</text>
<text transform="translate(91.6 692.57) scale(1 1.035) rotate(0.03)" font-size="34.3" text-anchor="end">0.6</text>
<text transform="translate(91.6 616.31) scale(1 1.035) rotate(0.03)" font-size="34.3" text-anchor="end">0.8</text>
<text transform="translate(93 540.05) scale(1 1.035) rotate(0.03)" font-size="34.3" text-anchor="end">1</text>
<text transform="translate(0.1 532.8) rotate(0.03)" font-size="42.0" font-weight="bold">(c)</text>
<text transform="translate(31.7 718.9) rotate(-90)" font-size="42.4" text-anchor="middle">Transmission</text>
<text transform="translate(371.7 995.6) rotate(0.03)" font-size="42.4"><tspan font-style="italic">λ</tspan><tspan dx="7.3" letter-spacing="0.55"> (nm)</tspan></text>
</g>
<g id="panel-d">
<path d="M1174.53 528.3V909.6M1397.07 528.3V909.6" fill="none" stroke="#b3b3b3" stroke-width="2.0" stroke-dasharray="8.5 8.4"/>
<path d="M1619.6 833.34H952M1619.6 757.08H952M1619.6 680.82H952M1619.6 604.56H952" fill="none" stroke="#b3b3b3" stroke-width="2.0" stroke-dasharray="8.45 8.4" stroke-dashoffset="14.25"/>
<path d="M1174.53 909.6v-8.1M1174.53 528.3v8.1M1397.07 909.6v-8.1M1397.07 528.3v8.1M952 833.34h8.1M1619.6 833.34h-8.1M952 757.08h8.1M1619.6 757.08h-8.1M952 680.82h8.1M1619.6 680.82h-8.1M952 604.56h8.1M1619.6 604.56h-8.1" fill="none" stroke="#000" stroke-width="2.0"/>
<rect x="952" y="528.3" width="667.6" height="381.3" fill="none" stroke="#000" stroke-width="2.2"/>
<rect x="966.3" y="666.2" width="221.8" height="221.8" fill="#34124c"/>
<path d="M1019.9 777.2 L1019.9 776.0 L1019.9 774.8 L1019.9 773.6 L1019.9 772.5 L1019.9 771.3 L1019.9 770.2 L1019.9 769.1 L1019.9 768.1 L1019.9 767.0 L1020.0 766.0 L1020.0 765.1 L1020.0 764.2 L1020.0 763.4 L1020.1 762.7 L1020.1 762.1 L1020.1 761.4 L1020.1 760.8 L1020.1 760.1 L1020.0 759.4 L1020.0 758.7 L1019.8 757.9 L1019.7 757.2 L1019.5 756.4 L1019.3 755.7 L1019.0 754.9 L1018.7 754.2 L1018.4 753.4 L1018.0 752.6 L1017.5 751.9 L1017.1 751.2 L1016.6 750.6 L1016.1 750.0 L1015.5 749.5 L1014.9 749.0 L1014.4 748.4 L1013.8 747.9 L1013.2 747.4 L1012.7 746.8 L1012.1 746.2 L1011.5 745.7 L1011.0 745.2 L1010.5 744.6 L1010.1 744.1 L1009.6 743.5 L1009.3 743.0 L1008.9 742.5 L1008.6 741.9 L1008.3 741.3 L1008.1 740.6 L1007.9 739.9 L1007.7 739.2 L1007.5 738.4 L1007.4 737.6 L1007.2 736.9 L1007.0 736.2 L1006.9 735.4 L1006.7 734.7 L1006.5 734.0 L1006.3 733.2 L1006.1 732.5 L1005.8 731.8 L1005.5 731.0 L1005.1 730.2 L1004.8 729.5 L1004.3 728.8 L1003.9 728.1 L1003.4 727.5 L1002.9 726.8 L1002.3 726.2 L1001.8 725.7 L1001.1 725.2 L1000.5 724.7 L999.8 724.3 L999.1 723.9 L998.4 723.6 L997.6 723.3 L996.8 723.1 L996.1 722.8 L995.4 722.5 L994.6 722.3 L993.9 722.1 L993.2 721.9 L992.4 721.7 L991.7 721.4 L991.0 721.1 L990.2 720.7 L989.4 720.3 L988.7 719.9 L988.0 719.5 L987.3 719.0 L986.7 718.5 L986.1 717.9 L985.5 717.3 L985.0 716.7 L984.5 716.0 L984.0 715.3 L983.6 714.6 L983.1 713.8 L982.7 713.0 L982.4 712.1 L982.1 711.3 L981.8 710.4 L981.6 709.5 L981.5 708.6 L981.4 707.6 L981.3 706.7 L981.2 705.8 L981.2 704.9 L981.2 704.1 L981.2 703.3 L981.2 702.5 L981.2 701.8 L981.2 701.0 L981.2 700.2 L981.2 699.4 L981.2 698.5 L981.2 697.6 L981.2 696.8 L981.2 696.0 L981.2 695.2 L981.2 694.5 L981.2 694.0 L981.1 693.4 L981.1 692.9 L981.1 692.3 L981.2 691.6 L981.3 690.8 L981.4 689.9 L981.6 689.0 L981.8 688.0 L982.0 687.0 L982.3 686.1 L982.6 685.2 L983.0 684.2 L983.5 683.2 L984.0 682.3 L984.5 681.4 L985.1 680.6 L985.7 679.8 L986.4 679.1 L987.2 678.4 L988.0 677.8 L988.7 677.2 L989.5 676.7 L990.2 676.3 L991.0 676.0 L991.8 675.7 L992.5 675.5 L993.2 675.4 L993.9 675.3 L994.4 675.2 L994.9 675.2 L995.2 675.2 L995.7 675.2 L996.4 675.2 L997.3 675.3 L998.6 675.3 L1000.2 675.3 L1001.9 675.3 L1003.8 675.3 L1005.6 675.3 L1007.3 675.3 L1009.0 675.3 L1010.7 675.3 L1012.4 675.3 L1014.1 675.3 L1015.6 675.3 L1016.8 675.3 L1017.7 675.2 L1018.4 675.2 L1018.9 675.2 L1019.4 675.2 L1019.8 675.2 L1020.4 675.3 L1021.1 675.4 L1021.8 675.6 L1022.6 675.8 L1023.3 676.0 L1024.1 676.3 L1024.8 676.7 L1025.5 677.1 L1026.2 677.6 L1026.8 678.2 L1027.5 678.7 L1028.1 679.4 L1028.7 680.0 L1029.2 680.7 L1029.8 681.4 L1030.3 682.1 L1030.7 682.8 L1031.1 683.6 L1031.5 684.4 L1031.8 685.2 L1032.0 686.1 L1032.2 686.9 L1032.4 687.8 L1032.5 688.6 L1032.6 689.4 L1032.7 690.1 L1032.7 690.7 L1032.7 691.2 L1032.7 691.8 L1032.7 692.4 L1032.7 693.2 L1032.7 694.1 L1032.7 695.0 L1032.7 696.1 L1032.7 697.1 L1032.7 698.2 L1032.8 699.3 L1032.9 700.4 L1033.0 701.6 L1033.1 702.8 L1033.3 703.9 L1033.5 705.0 L1033.7 706.0 L1034.0 706.9 L1034.3 707.7 L1034.6 708.4 L1035.0 709.1 L1035.5 709.7 L1035.9 710.4 L1036.4 711.1 L1036.9 711.7 L1037.5 712.4 L1038.1 713.0 L1038.6 713.6 L1039.2 714.2 L1039.8 714.7 L1040.3 715.1 L1040.9 715.6 L1041.4 716.0 L1042.0 716.5 L1042.5 717.0 L1043.0 717.6 L1043.5 718.3 L1044.0 719.1 L1044.5 719.9 L1044.9 720.6 L1045.3 721.4 L1045.6 722.1 L1045.8 722.8 L1046.0 723.5 L1046.1 724.2 L1046.3 725.0 L1046.4 725.8 L1046.5 726.7 L1046.5 727.6 L1046.5 728.5 L1046.5 729.5 L1046.7 730.5 L1046.9 731.4 L1047.3 732.3 L1047.8 733.2 L1048.4 734.2 L1049.0 735.1 L1049.6 736.0 L1050.2 736.9 L1050.8 737.8 L1051.4 738.7 L1052.0 739.7 L1052.6 740.6 L1053.1 741.5 L1053.6 742.4 L1054.0 743.3 L1054.5 744.2 L1054.8 745.1 L1055.2 746.0 L1055.5 746.9 L1055.8 747.9 L1056.1 748.9 L1056.3 750.0 L1056.4 751.2 L1056.6 752.3 L1056.7 753.5 L1056.9 754.6 L1057.1 755.7 L1057.2 756.9 L1057.3 758.0 L1057.5 759.2 L1057.6 760.2 L1057.7 761.2 L1057.8 762.0 L1057.8 762.8 L1057.9 763.5 L1057.9 764.1 L1058.0 764.8 L1058.0 765.6 L1058.0 766.5 L1058.1 767.4 L1058.1 768.3 L1058.2 769.3 L1058.2 770.2 L1058.2 771.2 L1058.2 772.2 L1058.2 773.2 L1058.2 774.2 L1058.2 775.2 L1058.2 776.2 L1058.2 777.2 L1058.2 778.2 L1058.2 779.2 L1058.2 780.2 L1058.2 781.2 L1058.2 782.2 L1058.2 783.2 L1058.2 784.2 L1058.2 785.1 L1058.1 786.1 L1058.1 787.0 L1058.0 787.9 L1058.0 788.8 L1058.0 789.6 L1057.9 790.3 L1057.9 790.9 L1057.8 791.6 L1057.8 792.4 L1057.7 793.2 L1057.6 794.2 L1057.5 795.2 L1057.3 796.4 L1057.2 797.5 L1057.1 798.7 L1056.9 799.8 L1056.7 800.9 L1056.6 802.1 L1056.4 803.2 L1056.3 804.4 L1056.1 805.5 L1055.8 806.5 L1055.5 807.5 L1055.2 808.4 L1054.8 809.3 L1054.5 810.2 L1054.0 811.1 L1053.6 812.0 L1053.1 812.9 L1052.6 813.8 L1052.0 814.8 L1051.4 815.7 L1050.8 816.6 L1050.2 817.5 L1049.6 818.4 L1049.0 819.3 L1048.4 820.2 L1047.8 821.2 L1047.3 822.1 L1046.9 823.0 L1046.7 823.9 L1046.5 824.9 L1046.5 825.9 L1046.5 826.8 L1046.5 827.7 L1046.4 828.6 L1046.3 829.4 L1046.1 830.2 L1046.0 830.9 L1045.8 831.6 L1045.6 832.3 L1045.3 833.0 L1044.9 833.8 L1044.5 834.5 L1044.0 835.3 L1043.5 836.1 L1043.0 836.8 L1042.5 837.4 L1042.0 837.9 L1041.4 838.4 L1040.9 838.8 L1040.3 839.3 L1039.8 839.7 L1039.2 840.2 L1038.6 840.8 L1038.1 841.4 L1037.5 842.0 L1036.9 842.7 L1036.4 843.3 L1035.9 844.0 L1035.5 844.7 L1035.0 845.3 L1034.6 846.0 L1034.3 846.7 L1034.0 847.5 L1033.7 848.4 L1033.5 849.4 L1033.3 850.5 L1033.1 851.6 L1033.0 852.8 L1032.9 854.0 L1032.8 855.1 L1032.7 856.2 L1032.7 857.3 L1032.7 858.3 L1032.7 859.4 L1032.7 860.3 L1032.7 861.2 L1032.7 862.0 L1032.7 862.6 L1032.7 863.2 L1032.7 863.7 L1032.7 864.3 L1032.6 865.0 L1032.5 865.8 L1032.4 866.6 L1032.2 867.5 L1032.0 868.3 L1031.8 869.2 L1031.5 870.0 L1031.1 870.8 L1030.7 871.6 L1030.3 872.3 L1029.8 873.0 L1029.2 873.7 L1028.7 874.4 L1028.1 875.0 L1027.5 875.7 L1026.8 876.2 L1026.2 876.8 L1025.5 877.3 L1024.8 877.7 L1024.1 878.1 L1023.3 878.4 L1022.6 878.6 L1021.8 878.8 L1021.1 879.0 L1020.4 879.1 L1019.8 879.2 L1019.4 879.2 L1018.9 879.2 L1018.4 879.2 L1017.7 879.2 L1016.8 879.1 L1015.6 879.1 L1014.1 879.1 L1012.4 879.1 L1010.7 879.1 L1009.0 879.1 L1007.3 879.1 L1005.6 879.1 L1003.8 879.1 L1001.9 879.1 L1000.2 879.1 L998.6 879.1 L997.3 879.1 L996.4 879.2 L995.7 879.2 L995.2 879.2 L994.9 879.2 L994.4 879.2 L993.9 879.1 L993.2 879.0 L992.5 878.9 L991.8 878.7 L991.0 878.4 L990.2 878.1 L989.5 877.7 L988.7 877.2 L988.0 876.6 L987.2 876.0 L986.4 875.3 L985.7 874.6 L985.1 873.8 L984.5 873.0 L984.0 872.1 L983.5 871.2 L983.0 870.2 L982.6 869.2 L982.3 868.3 L982.0 867.4 L981.8 866.4 L981.6 865.4 L981.4 864.5 L981.3 863.6 L981.2 862.8 L981.1 862.1 L981.1 861.5 L981.1 861.0 L981.2 860.4 L981.2 859.9 L981.2 859.2 L981.2 858.4 L981.2 857.6 L981.2 856.8 L981.2 855.9 L981.2 855.0 L981.2 854.2 L981.2 853.4 L981.2 852.6 L981.2 851.9 L981.2 851.1 L981.2 850.3 L981.2 849.5 L981.2 848.6 L981.3 847.7 L981.4 846.8 L981.5 845.8 L981.6 844.9 L981.8 844.0 L982.1 843.1 L982.4 842.3 L982.7 841.4 L983.1 840.6 L983.6 839.8 L984.0 839.1 L984.5 838.4 L985.0 837.7 L985.5 837.1 L986.1 836.5 L986.7 835.9 L987.3 835.4 L988.0 834.9 L988.7 834.5 L989.4 834.1 L990.2 833.7 L991.0 833.3 L991.7 833.0 L992.4 832.7 L993.2 832.5 L993.9 832.3 L994.6 832.1 L995.4 831.9 L996.1 831.6 L996.8 831.3 L997.6 831.1 L998.4 830.8 L999.1 830.5 L999.8 830.1 L1000.5 829.7 L1001.1 829.2 L1001.8 828.7 L1002.3 828.2 L1002.9 827.6 L1003.4 826.9 L1003.9 826.3 L1004.3 825.6 L1004.8 824.9 L1005.1 824.2 L1005.5 823.4 L1005.8 822.6 L1006.1 821.9 L1006.3 821.2 L1006.5 820.4 L1006.7 819.7 L1006.9 819.0 L1007.0 818.2 L1007.2 817.5 L1007.4 816.8 L1007.5 816.0 L1007.7 815.2 L1007.9 814.5 L1008.1 813.8 L1008.3 813.1 L1008.6 812.5 L1008.9 811.9 L1009.3 811.4 L1009.6 810.9 L1010.1 810.3 L1010.5 809.8 L1011.0 809.2 L1011.5 808.7 L1012.1 808.2 L1012.7 807.6 L1013.2 807.1 L1013.8 806.5 L1014.4 806.0 L1014.9 805.4 L1015.5 804.9 L1016.1 804.4 L1016.6 803.8 L1017.1 803.2 L1017.5 802.5 L1018.0 801.8 L1018.4 801.0 L1018.7 800.2 L1019.0 799.5 L1019.3 798.7 L1019.5 798.0 L1019.7 797.2 L1019.8 796.5 L1020.0 795.7 L1020.0 795.0 L1020.1 794.3 L1020.1 793.6 L1020.1 793.0 L1020.1 792.4 L1020.1 791.7 L1020.0 791.0 L1020.0 790.2 L1020.0 789.3 L1020.0 788.4 L1019.9 787.4 L1019.9 786.3 L1019.9 785.3 L1019.9 784.2 L1019.9 783.1 L1019.9 781.9 L1019.9 780.8 L1019.9 779.6 L1019.9 778.4Z" fill="#fbe83d"/>
<path d="M1134.7 777.2 L1134.7 776.0 L1134.7 774.8 L1134.7 773.6 L1134.7 772.5 L1134.7 771.3 L1134.7 770.2 L1134.7 769.1 L1134.7 768.1 L1134.7 767.0 L1134.6 766.0 L1134.6 765.1 L1134.6 764.2 L1134.6 763.4 L1134.5 762.7 L1134.5 762.1 L1134.5 761.4 L1134.5 760.8 L1134.5 760.1 L1134.6 759.4 L1134.6 758.7 L1134.8 757.9 L1134.9 757.2 L1135.1 756.4 L1135.3 755.7 L1135.6 754.9 L1135.9 754.2 L1136.2 753.4 L1136.6 752.6 L1137.1 751.9 L1137.5 751.2 L1138.0 750.6 L1138.5 750.0 L1139.1 749.5 L1139.7 749.0 L1140.2 748.4 L1140.8 747.9 L1141.4 747.4 L1141.9 746.8 L1142.5 746.2 L1143.1 745.7 L1143.6 745.2 L1144.1 744.6 L1144.5 744.1 L1145.0 743.5 L1145.3 743.0 L1145.7 742.5 L1146.0 741.9 L1146.3 741.3 L1146.5 740.6 L1146.7 739.9 L1146.9 739.2 L1147.1 738.4 L1147.2 737.6 L1147.4 736.9 L1147.6 736.2 L1147.7 735.4 L1147.9 734.7 L1148.1 734.0 L1148.3 733.2 L1148.5 732.5 L1148.8 731.8 L1149.1 731.0 L1149.5 730.2 L1149.8 729.5 L1150.3 728.8 L1150.7 728.1 L1151.2 727.5 L1151.7 726.8 L1152.3 726.2 L1152.8 725.7 L1153.5 725.2 L1154.1 724.7 L1154.8 724.3 L1155.5 723.9 L1156.2 723.6 L1157.0 723.3 L1157.8 723.1 L1158.5 722.8 L1159.2 722.5 L1160.0 722.3 L1160.7 722.1 L1161.4 721.9 L1162.2 721.7 L1162.9 721.4 L1163.6 721.1 L1164.4 720.7 L1165.2 720.3 L1165.9 719.9 L1166.6 719.5 L1167.3 719.0 L1167.9 718.5 L1168.5 717.9 L1169.1 717.3 L1169.6 716.7 L1170.1 716.0 L1170.6 715.3 L1171.0 714.6 L1171.5 713.8 L1171.9 713.0 L1172.2 712.1 L1172.5 711.3 L1172.8 710.4 L1173.0 709.5 L1173.1 708.6 L1173.2 707.6 L1173.3 706.7 L1173.4 705.8 L1173.4 704.9 L1173.4 704.1 L1173.4 703.3 L1173.4 702.5 L1173.4 701.8 L1173.4 701.0 L1173.4 700.2 L1173.4 699.4 L1173.4 698.5 L1173.4 697.6 L1173.4 696.8 L1173.4 696.0 L1173.4 695.2 L1173.4 694.5 L1173.4 694.0 L1173.5 693.4 L1173.5 692.9 L1173.5 692.3 L1173.4 691.6 L1173.3 690.8 L1173.2 689.9 L1173.0 689.0 L1172.8 688.0 L1172.6 687.0 L1172.3 686.1 L1172.0 685.2 L1171.6 684.2 L1171.1 683.2 L1170.6 682.3 L1170.1 681.4 L1169.5 680.6 L1168.9 679.8 L1168.2 679.1 L1167.4 678.4 L1166.6 677.8 L1165.9 677.2 L1165.1 676.7 L1164.4 676.3 L1163.6 676.0 L1162.8 675.7 L1162.1 675.5 L1161.4 675.4 L1160.7 675.3 L1160.2 675.2 L1159.7 675.2 L1159.3 675.2 L1158.9 675.2 L1158.2 675.2 L1157.3 675.3 L1156.0 675.3 L1154.4 675.3 L1152.7 675.3 L1150.8 675.3 L1149.0 675.3 L1147.3 675.3 L1145.6 675.3 L1143.9 675.3 L1142.1 675.3 L1140.5 675.3 L1139.0 675.3 L1137.8 675.3 L1136.9 675.2 L1136.2 675.2 L1135.7 675.2 L1135.2 675.2 L1134.8 675.2 L1134.2 675.3 L1133.5 675.4 L1132.8 675.6 L1132.0 675.8 L1131.3 676.0 L1130.5 676.3 L1129.8 676.7 L1129.1 677.1 L1128.4 677.6 L1127.8 678.2 L1127.1 678.7 L1126.5 679.4 L1125.9 680.0 L1125.3 680.7 L1124.8 681.4 L1124.3 682.1 L1123.9 682.8 L1123.5 683.6 L1123.1 684.4 L1122.8 685.2 L1122.6 686.1 L1122.4 686.9 L1122.2 687.8 L1122.1 688.6 L1122.0 689.4 L1121.9 690.1 L1121.9 690.7 L1121.9 691.2 L1121.9 691.8 L1121.9 692.4 L1121.9 693.2 L1121.9 694.1 L1121.9 695.0 L1121.9 696.1 L1121.9 697.1 L1121.9 698.2 L1121.8 699.3 L1121.7 700.4 L1121.6 701.6 L1121.5 702.8 L1121.3 703.9 L1121.1 705.0 L1120.9 706.0 L1120.6 706.9 L1120.3 707.7 L1119.9 708.4 L1119.6 709.1 L1119.1 709.7 L1118.7 710.4 L1118.2 711.1 L1117.7 711.7 L1117.1 712.4 L1116.5 713.0 L1116.0 713.6 L1115.4 714.2 L1114.8 714.7 L1114.3 715.1 L1113.7 715.6 L1113.2 716.0 L1112.6 716.5 L1112.1 717.0 L1111.6 717.6 L1111.1 718.3 L1110.6 719.1 L1110.1 719.9 L1109.7 720.6 L1109.3 721.4 L1109.0 722.1 L1108.8 722.8 L1108.6 723.5 L1108.5 724.2 L1108.3 725.0 L1108.2 725.8 L1108.1 726.7 L1108.1 727.6 L1108.1 728.5 L1108.1 729.5 L1107.9 730.5 L1107.7 731.4 L1107.3 732.3 L1106.8 733.2 L1106.2 734.2 L1105.6 735.1 L1105.0 736.0 L1104.4 736.9 L1103.8 737.8 L1103.2 738.7 L1102.6 739.7 L1102.0 740.6 L1101.5 741.5 L1101.0 742.4 L1100.6 743.3 L1100.1 744.2 L1099.8 745.1 L1099.4 746.0 L1099.1 746.9 L1098.8 747.9 L1098.5 748.9 L1098.3 750.0 L1098.2 751.2 L1098.0 752.3 L1097.9 753.5 L1097.7 754.6 L1097.5 755.7 L1097.4 756.9 L1097.2 758.0 L1097.1 759.2 L1097.0 760.2 L1096.9 761.2 L1096.8 762.0 L1096.8 762.8 L1096.7 763.5 L1096.7 764.1 L1096.6 764.8 L1096.6 765.6 L1096.6 766.5 L1096.5 767.4 L1096.5 768.3 L1096.4 769.3 L1096.4 770.2 L1096.4 771.2 L1096.4 772.2 L1096.4 773.2 L1096.4 774.2 L1096.4 775.2 L1096.4 776.2 L1096.4 777.2 L1096.4 778.2 L1096.4 779.2 L1096.4 780.2 L1096.4 781.2 L1096.4 782.2 L1096.4 783.2 L1096.4 784.2 L1096.4 785.1 L1096.5 786.1 L1096.5 787.0 L1096.6 787.9 L1096.6 788.8 L1096.6 789.6 L1096.7 790.3 L1096.7 790.9 L1096.8 791.6 L1096.8 792.4 L1096.9 793.2 L1097.0 794.2 L1097.1 795.2 L1097.2 796.4 L1097.4 797.5 L1097.5 798.7 L1097.7 799.8 L1097.9 800.9 L1098.0 802.1 L1098.2 803.2 L1098.3 804.4 L1098.5 805.5 L1098.8 806.5 L1099.1 807.5 L1099.4 808.4 L1099.8 809.3 L1100.1 810.2 L1100.6 811.1 L1101.0 812.0 L1101.5 812.9 L1102.0 813.8 L1102.6 814.8 L1103.2 815.7 L1103.8 816.6 L1104.4 817.5 L1105.0 818.4 L1105.6 819.3 L1106.2 820.2 L1106.8 821.2 L1107.3 822.1 L1107.7 823.0 L1107.9 823.9 L1108.1 824.9 L1108.1 825.9 L1108.1 826.8 L1108.1 827.7 L1108.2 828.6 L1108.3 829.4 L1108.5 830.2 L1108.6 830.9 L1108.8 831.6 L1109.0 832.3 L1109.3 833.0 L1109.7 833.8 L1110.1 834.5 L1110.6 835.3 L1111.1 836.1 L1111.6 836.8 L1112.1 837.4 L1112.6 837.9 L1113.2 838.4 L1113.7 838.8 L1114.3 839.3 L1114.8 839.7 L1115.4 840.2 L1116.0 840.8 L1116.5 841.4 L1117.1 842.0 L1117.7 842.7 L1118.2 843.3 L1118.7 844.0 L1119.1 844.7 L1119.6 845.3 L1120.0 846.0 L1120.3 846.7 L1120.6 847.5 L1120.9 848.4 L1121.1 849.4 L1121.3 850.5 L1121.5 851.6 L1121.6 852.8 L1121.7 854.0 L1121.8 855.1 L1121.9 856.2 L1121.9 857.3 L1121.9 858.3 L1121.9 859.4 L1121.9 860.3 L1121.9 861.2 L1121.9 862.0 L1121.9 862.6 L1121.9 863.2 L1121.9 863.7 L1121.9 864.3 L1122.0 865.0 L1122.1 865.8 L1122.2 866.6 L1122.4 867.5 L1122.6 868.3 L1122.8 869.2 L1123.1 870.0 L1123.5 870.8 L1123.9 871.6 L1124.3 872.3 L1124.8 873.0 L1125.3 873.7 L1125.9 874.4 L1126.5 875.0 L1127.1 875.7 L1127.8 876.2 L1128.4 876.8 L1129.1 877.3 L1129.8 877.7 L1130.5 878.1 L1131.3 878.4 L1132.0 878.6 L1132.8 878.8 L1133.5 879.0 L1134.2 879.1 L1134.8 879.2 L1135.2 879.2 L1135.7 879.2 L1136.2 879.2 L1136.9 879.2 L1137.8 879.1 L1139.0 879.1 L1140.5 879.1 L1142.1 879.1 L1143.9 879.1 L1145.6 879.1 L1147.3 879.1 L1149.0 879.1 L1150.8 879.1 L1152.7 879.1 L1154.4 879.1 L1156.0 879.1 L1157.3 879.1 L1158.2 879.2 L1158.9 879.2 L1159.3 879.2 L1159.7 879.2 L1160.2 879.2 L1160.7 879.1 L1161.4 879.0 L1162.1 878.9 L1162.8 878.7 L1163.6 878.4 L1164.4 878.1 L1165.1 877.7 L1165.9 877.2 L1166.6 876.6 L1167.4 876.0 L1168.2 875.3 L1168.9 874.6 L1169.5 873.8 L1170.1 873.0 L1170.6 872.1 L1171.1 871.2 L1171.6 870.2 L1172.0 869.2 L1172.3 868.3 L1172.6 867.4 L1172.8 866.4 L1173.0 865.4 L1173.2 864.5 L1173.3 863.6 L1173.4 862.8 L1173.5 862.1 L1173.5 861.5 L1173.5 861.0 L1173.4 860.4 L1173.4 859.9 L1173.4 859.2 L1173.4 858.4 L1173.4 857.6 L1173.4 856.8 L1173.4 855.9 L1173.4 855.0 L1173.4 854.2 L1173.4 853.4 L1173.4 852.6 L1173.4 851.9 L1173.4 851.1 L1173.4 850.3 L1173.4 849.5 L1173.4 848.6 L1173.3 847.7 L1173.2 846.8 L1173.1 845.8 L1173.0 844.9 L1172.8 844.0 L1172.5 843.1 L1172.2 842.3 L1171.9 841.4 L1171.5 840.6 L1171.0 839.8 L1170.6 839.1 L1170.1 838.4 L1169.6 837.7 L1169.1 837.1 L1168.5 836.5 L1167.9 835.9 L1167.3 835.4 L1166.6 834.9 L1165.9 834.5 L1165.2 834.1 L1164.4 833.7 L1163.6 833.3 L1162.9 833.0 L1162.2 832.7 L1161.4 832.5 L1160.7 832.3 L1160.0 832.1 L1159.2 831.9 L1158.5 831.6 L1157.8 831.3 L1157.0 831.1 L1156.2 830.8 L1155.5 830.5 L1154.8 830.1 L1154.1 829.7 L1153.5 829.2 L1152.8 828.7 L1152.3 828.2 L1151.7 827.6 L1151.2 826.9 L1150.7 826.3 L1150.3 825.6 L1149.8 824.9 L1149.5 824.2 L1149.1 823.4 L1148.8 822.6 L1148.5 821.9 L1148.3 821.2 L1148.1 820.4 L1147.9 819.7 L1147.7 819.0 L1147.6 818.2 L1147.4 817.5 L1147.2 816.8 L1147.1 816.0 L1146.9 815.2 L1146.7 814.5 L1146.5 813.8 L1146.3 813.1 L1146.0 812.5 L1145.7 811.9 L1145.3 811.4 L1145.0 810.9 L1144.5 810.3 L1144.1 809.8 L1143.6 809.2 L1143.1 808.7 L1142.5 808.2 L1141.9 807.6 L1141.4 807.1 L1140.8 806.5 L1140.2 806.0 L1139.7 805.4 L1139.1 804.9 L1138.5 804.4 L1138.0 803.8 L1137.5 803.2 L1137.1 802.5 L1136.6 801.8 L1136.2 801.0 L1135.9 800.2 L1135.6 799.5 L1135.3 798.7 L1135.1 798.0 L1134.9 797.2 L1134.8 796.5 L1134.6 795.7 L1134.6 795.0 L1134.5 794.3 L1134.5 793.6 L1134.5 793.0 L1134.5 792.4 L1134.5 791.7 L1134.6 791.0 L1134.6 790.2 L1134.6 789.3 L1134.6 788.4 L1134.7 787.4 L1134.7 786.3 L1134.7 785.3 L1134.7 784.2 L1134.7 783.1 L1134.7 781.9 L1134.7 780.8 L1134.7 779.6 L1134.7 778.4Z" fill="#fbe83d"/>
<polyline points="1619.6,559.38 1584.69,563.3 1551.13,572 1518.83,591.6 1487.73,589.88 1457.76,578.56 1428.86,572.76 1400.97,568.91 1374.05,565.17 1348.03,562.62 1322.89,560.98 1298.57,559.68 1275.03,558.54 1252.24,557.77 1230.17,557.36 1208.77,556.9 1188.02,556.9 1167.89,556.74 1148.35,556.52 1129.38,556.02 1110.95,555.37 1093.04,554.61 1075.63,554.15 1058.69,555.64 1042.22,563.3 1026.18,582.18 1010.56,545.15 995.35,539.36 980.53,537.18 966.08,534.02 952,532.8" fill="none" stroke="#29abe2" stroke-width="5.8" stroke-linejoin="round"/>
<polyline points="1619.6,559.38 1584.69,563.3 1551.13,572 1518.83,591.6 1487.73,589.88 1457.76,578.56 1428.86,572.76 1400.97,568.91 1374.05,565.17 1348.03,562.62 1322.89,560.98 1298.57,559.68 1275.03,558.54 1252.24,557.77 1230.17,557.36 1208.77,556.9 1188.02,556.9 1167.89,556.74 1148.35,556.52 1129.38,556.02 1110.95,555.37 1093.04,554.61 1075.63,554.15 1058.69,555.64 1042.22,563.3 1026.18,582.18 1010.56,545.15" fill="none" stroke="#f7931e" stroke-width="5.3" stroke-linejoin="round" stroke-dasharray="21.18 21.18" stroke-dashoffset="41.98"/>
<polyline points="999.2,541.2 995.35,539.36 980.53,536.8 966.08,533.64 952,532.8" fill="none" stroke="#f7931e" stroke-width="5.3" stroke-linejoin="round" stroke-dasharray="21.18 21.18" stroke-dashoffset="10"/>
<path d="M998.2 538.2 L1008.8 543.2 L1008.1 544.1 L998.2 543.9Z" fill="#f7931e"/>
<text transform="translate(952 948.7) scale(1 1.035) rotate(0.03)" font-size="34.3" text-anchor="middle">1000</text>
<text transform="translate(1174.53 948.7) scale(1 1.035) rotate(0.03)" font-size="34.3" text-anchor="middle">1200</text>
<text transform="translate(1397.07 948.7) scale(1 1.035) rotate(0.03)" font-size="34.3" text-anchor="middle">1400</text>
<text transform="translate(1619.6 948.7) scale(1 1.035) rotate(0.03)" font-size="34.3" text-anchor="middle">1600</text>
<text transform="translate(943.3 921.35) scale(1 1.035) rotate(0.03)" font-size="34.3" text-anchor="end">0</text>
<text transform="translate(943.3 845.09) scale(1 1.035) rotate(0.03)" font-size="34.3" text-anchor="end">0.2</text>
<text transform="translate(943.3 768.83) scale(1 1.035) rotate(0.03)" font-size="34.3" text-anchor="end">0.4</text>
<text transform="translate(943.3 692.57) scale(1 1.035) rotate(0.03)" font-size="34.3" text-anchor="end">0.6</text>
<text transform="translate(943.3 616.31) scale(1 1.035) rotate(0.03)" font-size="34.3" text-anchor="end">0.8</text>
<text transform="translate(944.7 540.05) scale(1 1.035) rotate(0.03)" font-size="34.3" text-anchor="end">1</text>
<text transform="translate(855.2 532.8) rotate(0.03)" font-size="42.0" font-weight="bold">(d)</text>
<text transform="translate(1222 995.6) rotate(0.03)" font-size="42.4"><tspan font-style="italic">λ</tspan><tspan dx="7.3" letter-spacing="0.55"> (nm)</tspan></text>
</g>
<g id="legend">
<path d="M132.8 15.9H237.9" stroke="#29abe2" stroke-width="3.4" fill="none"/>
<text transform="translate(258.3 24.9) rotate(0.02)" font-size="34.45" style="fill:#29abe2">FDTD simulated transmission</text>
<path d="M865.6 15.9H970.8" stroke="#f7931e" stroke-width="3.4" fill="none" stroke-dasharray="17.3 17.2" stroke-dashoffset="7.65"/>
<text transform="translate(987.8 24.9) rotate(0.02)" font-size="34.45" style="fill:#f7931e">Llama predicted transmission</text>
</g>
</svg></body></html>
